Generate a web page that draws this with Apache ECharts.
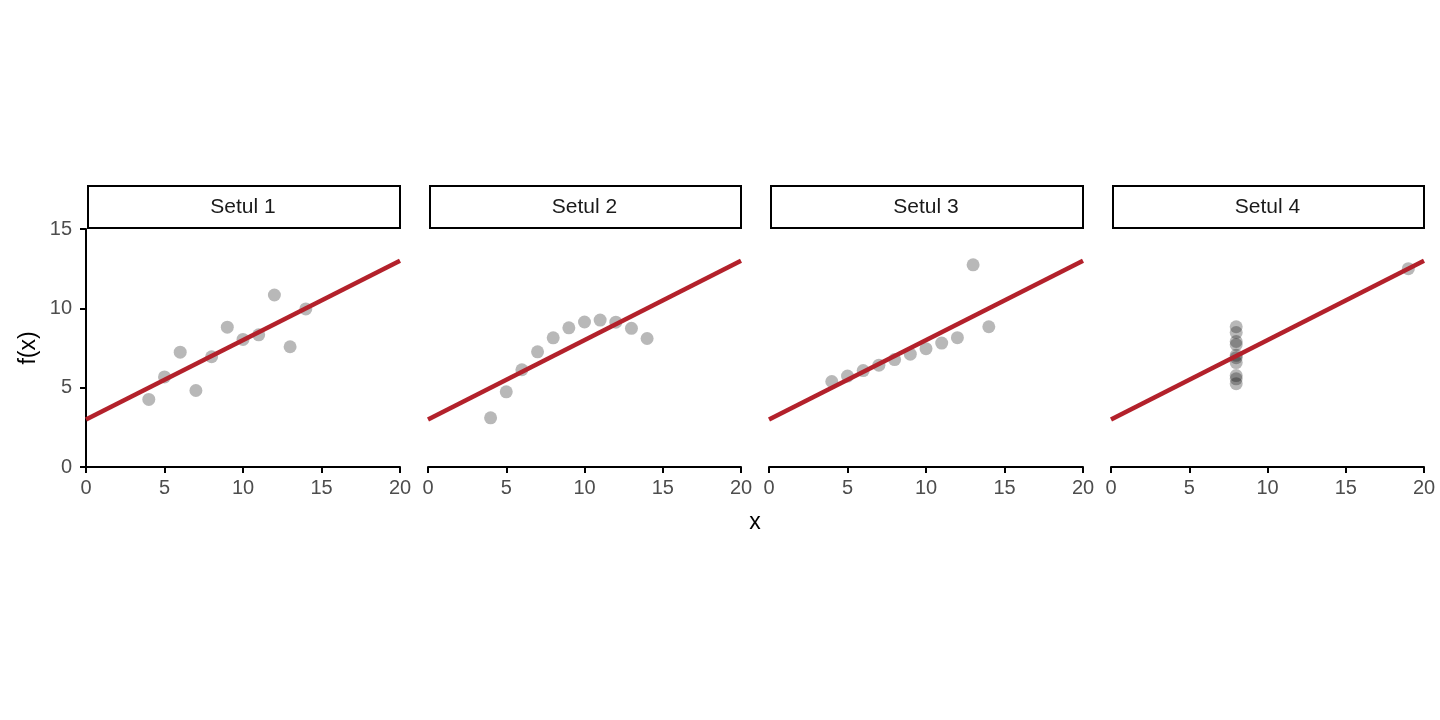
<!DOCTYPE html>
<html><head><meta charset="utf-8">
<script src="https://cdn.jsdelivr.net/npm/echarts@6/dist/echarts.min.js"></script>
<style>html,body{margin:0;padding:0;background:#fff}#c{width:1440px;height:720px}</style>
</head><body><div id="c"></div>
<script>
const panelNames = ['Setul 1', 'Setul 2', 'Setul 3', 'Setul 4'];
const x123 = [10, 8, 13, 9, 11, 14, 6, 4, 12, 7, 5];
const x4 = [8, 8, 8, 8, 8, 8, 8, 19, 8, 8, 8];
const y1 = [8.04, 6.95, 7.58, 8.81, 8.33, 9.96, 7.24, 4.26, 10.84, 4.82, 5.68];
const y2 = [9.14, 8.14, 8.74, 8.77, 9.26, 8.10, 6.13, 3.10, 9.13, 7.26, 4.74];
const y3 = [7.46, 6.77, 12.74, 7.11, 7.81, 8.84, 6.08, 5.39, 8.15, 6.42, 5.73];
const y4 = [6.58, 5.76, 7.71, 8.84, 8.47, 7.04, 5.25, 12.50, 5.56, 7.91, 6.89];
const fitX = [0, 20];
const fitY = [3, 13];
const xTicks = [0, 5, 10, 15, 20];
const yTicks = [0, 5, 10, 15];

(function () {
const xs = [x123, x123, x123, x4];
const ys = [y1, y2, y3, y4];
const lefts = [86, 428, 769, 1111];
const widths = [314, 313, 314, 313];
const gTop = 229, gHeight = 238;
const font = 'Liberation Sans, Arial, sans-serif';

const grid = [], xAxis = [], yAxis = [], series = [], graphic = [];
for (let i = 0; i < 4; i++) {
  grid.push({left: lefts[i], top: gTop, width: widths[i], height: gHeight});
  xAxis.push({
    type: 'value', gridIndex: i, min: xTicks[0], max: xTicks[xTicks.length - 1], interval: 5,
    axisLine: {show: true, lineStyle: {color: '#000', width: 2}},
    axisTick: {show: true, length: 6, lineStyle: {color: '#000', width: 2}},
    axisLabel: {color: '#4d4d4d', fontSize: 20, fontFamily: font, margin: 11},
    splitLine: {show: false}
  });
  yAxis.push({
    type: 'value', gridIndex: i, min: yTicks[0], max: yTicks[yTicks.length - 1], interval: 5,
    show: i === 0,
    axisLine: {show: true, lineStyle: {color: '#000', width: 2}},
    axisTick: {show: true, length: 6, lineStyle: {color: '#000', width: 2}},
    axisLabel: {color: '#4d4d4d', fontSize: 20, fontFamily: font, margin: 14},
    splitLine: {show: false},
    name: i === 0 ? 'f(x)' : '', nameLocation: 'middle', nameGap: 46, nameRotate: 90,
    nameTextStyle: {color: '#000', fontSize: 23, fontFamily: font}
  });
  series.push({
    type: 'scatter', xAxisIndex: i, yAxisIndex: i, symbolSize: 13,
    itemStyle: {color: 'rgba(0,0,0,0.35)'},
    data: xs[i].map((v, k) => [v, ys[i][k]]), z: 2
  });
  series.push({
    type: 'line', xAxisIndex: i, yAxisIndex: i, showSymbol: false, symbol: 'none',
    lineStyle: {color: '#b3212b', width: 4.5},
    data: fitX.map((v, k) => [v, fitY[k]]), z: 3, silent: true
  });
  graphic.push({
    type: 'rect', left: lefts[i] + 1, top: 185,
    shape: {width: widths[i] - 2, height: 42},
    style: {fill: '#fff', stroke: '#000', lineWidth: 2}
  });
  graphic.push({
    type: 'text', x: lefts[i] + widths[i] / 2, y: 207,
    style: {text: panelNames[i], fill: '#1a1a1a', fontSize: 21, fontFamily: font, align: 'center', verticalAlign: 'middle'}
  });
}
graphic.push({
  type: 'text', x: 755, y: 523,
  style: {text: 'x', fill: '#000', fontSize: 23, fontFamily: font, align: 'center', verticalAlign: 'middle'}
});

const chart = echarts.init(document.getElementById('c'));
chart.setOption({animation: false, backgroundColor: '#fff', grid, xAxis, yAxis, series, graphic});
})();
</script></body></html>
